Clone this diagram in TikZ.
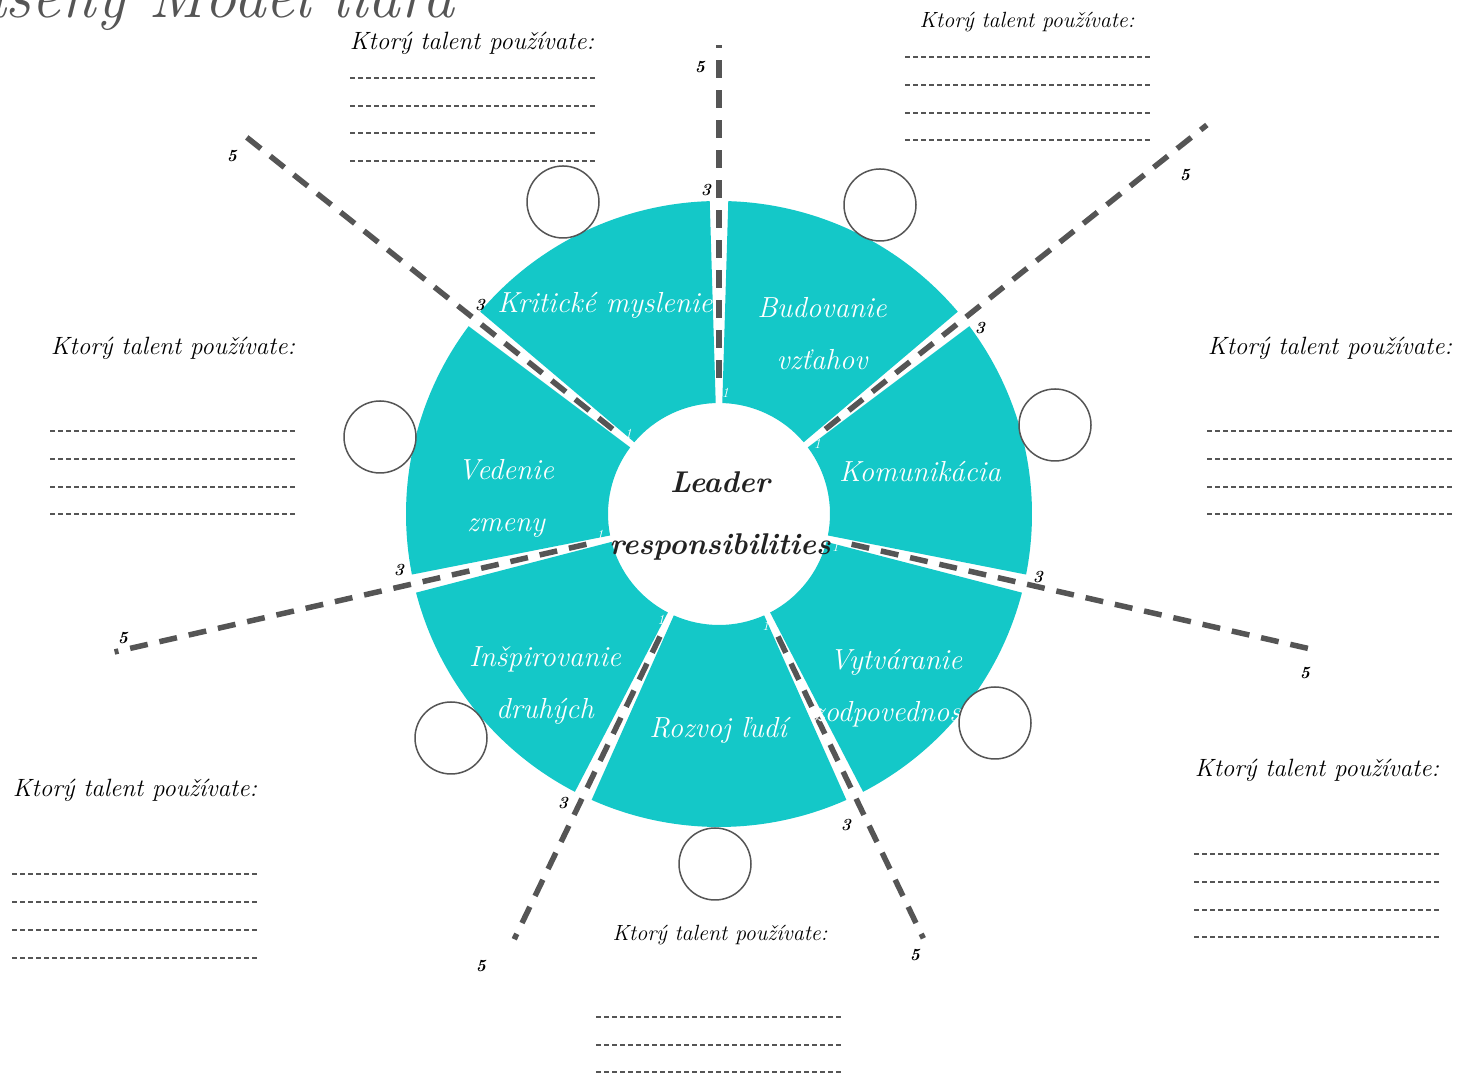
\documentclass[tikz,border=0pt]{standalone}
\usepackage{fontspec}
\usetikzlibrary{calc}
\definecolor{segc}{HTML}{14C8C8}
\definecolor{dgray}{HTML}{555555}
\definecolor{txtdark}{HTML}{222222}
\begin{document}
\begin{tikzpicture}[x=1pt,y=1pt,
  seg/.style={fill=segc},
  spoke/.style={draw=dgray, line width=5.5pt, dash pattern=on 18pt off 12pt},
  ring/.style={draw=dgray, line width=1.5pt, fill=white, circle, minimum size=72pt, inner sep=0pt},
  seglabel/.style={text=white, font=\fontsize{29}{52}\selectfont\itshape, align=center},
  centerlabel/.style={text=txtdark, font=\fontsize{30}{62}\selectfont\bfseries\itshape, align=center},
  qbig/.style={font=\fontsize{25}{30}\selectfont\itshape, text=black, inner sep=0pt},
  qsmall/.style={font=\fontsize{22}{26}\selectfont\itshape, text=black, inner sep=0pt},
  writeline/.style={draw=dgray, line width=1.2pt, dash pattern=on 5pt off 3pt},
  numlab/.style={font=\fontsize{17}{17}\selectfont\bfseries\itshape, text=black, inner sep=0pt},
  onelab/.style={font=\fontsize{14}{14}\selectfont\itshape, text=white, inner sep=0pt},
  titlelab/.style={font=\fontsize{64}{66}\selectfont\itshape, text=dgray, inner sep=0pt}
]
\useasboundingbox (0,0) rectangle (1459,1078);
\fill[white] (0,0) rectangle (1459,1078);

% cut-off title (clipped at the top edge, as in the reference)
\node[titlelab, anchor=base east] (title) at (455,1060) {Zjednodušený Model lídra};

\coordinate (C) at (719,564);

% ring sectors
\foreach \k in {0,...,6} {
  \pgfmathsetmacro\s{90-(\k+1)*360/7+1.7}
  \pgfmathsetmacro\e{90-\k*360/7-1.7}
  \fill[seg] ($(C)+(\s:313)$) arc[start angle=\s, end angle=\e, radius=313]
     -- ($(C)+(\e:111)$) arc[start angle=\e, end angle=\s, radius=111] -- cycle;
}

% spokes
\foreach \k/\L in {0/469,1/624,2/607,3/471,4/472,5/620,6/616} {
  \pgfmathsetmacro\a{90-\k*360/7}
  \coordinate (si\k) at ($(C)+(\a:136)$);
  \coordinate (so\k) at ($(C)+(\a:\L)$);
  \draw[spoke] (si\k) -- (so\k);
}

% hidden inner "1" labels
\foreach \k in {0,...,6} {
  \pgfmathsetmacro\a{90-\k*360/7-3}
  \node[onelab] (one\k) at ($(C)+(\a:121)$) {1};
}

% segment labels
\node[seglabel] (kritm) at (605,773) {Kritické myslenie};
\node[seglabel] (budov) at (822,744) {Budovanie\\vzťahov};
\node[seglabel] (komun) at (920,606) {Komunikácia};
\node[seglabel] (vytv) at (896,390) {Vytváranie\\zodpovednosti};
\node[seglabel] (rozv) at (718,348) {Rozvoj ľudí};
\node[seglabel] (insp) at (545,393) {Inšpirovanie\\druhých};
\node[seglabel] (vede) at (506,580) {Vedenie\\zmeny};
\node[centerlabel] (lead) at (720,562) {Leader\\responsibilities};

% circles
\node[ring] (c1) at (563,876) {};
\node[ring] (c2) at (880,873) {};
\node[ring] (c3) at (1055,653) {};
\node[ring] (c4) at (995,355) {};
\node[ring] (c5) at (715,214) {};
\node[ring] (c6) at (451,340) {};
\node[ring] (c7) at (380,641) {};

% scale numbers 3
\node[numlab] (t3a) at (706,888) {3};
\node[numlab] (t3b) at (980,750) {3};
\node[numlab] (t3c) at (1038,501) {3};
\node[numlab] (t3d) at (846,253) {3};
\node[numlab] (t3e) at (563,275) {3};
\node[numlab] (t3f) at (399,508) {3};
\node[numlab] (t3g) at (480,773) {3};
% scale numbers 5
\node[numlab] (t5a) at (700,1011) {5};
\node[numlab] (t5b) at (1185,903) {5};
\node[numlab] (t5c) at (1305,405) {5};
\node[numlab] (t5d) at (915,123) {5};
\node[numlab] (t5e) at (481,112) {5};
\node[numlab] (t5f) at (123,440) {5};
\node[numlab] (t5g) at (232,922) {5};

% question boxes
\node[qbig] (q1) at (472,1035) {Ktorý talent používate:};
\foreach \y in {1000,972,945,917} \draw[writeline] (350,\y) -- (596,\y);

\node[qsmall] (q2) at (1027,1056) {Ktorý talent používate:};
\foreach \y in {1021,993,965,938} \draw[writeline] (905,\y) -- (1150,\y);

\node[qbig] (q3) at (173,730) {Ktorý talent používate:};
\foreach \y in {647,619,591,564} \draw[writeline] (50,\y) -- (297,\y);

\node[qbig] (q4) at (1330,730) {Ktorý talent používate:};
\foreach \y in {647,619,591,564} \draw[writeline] (1207,\y) -- (1453,\y);

\node[qbig] (q5) at (135,288) {Ktorý talent používate:};
\foreach \y in {204,176,148,120} \draw[writeline] (12,\y) -- (259,\y);

\node[qbig] (q6) at (1317,308) {Ktorý talent používate:};
\foreach \y in {224,196,168,141} \draw[writeline] (1194,\y) -- (1440,\y);

\node[qsmall] (q7) at (720,143) {Ktorý talent používate:};
\foreach \y in {61,33,6} \draw[writeline] (596,\y) -- (843,\y);
\end{tikzpicture}
\end{document}
